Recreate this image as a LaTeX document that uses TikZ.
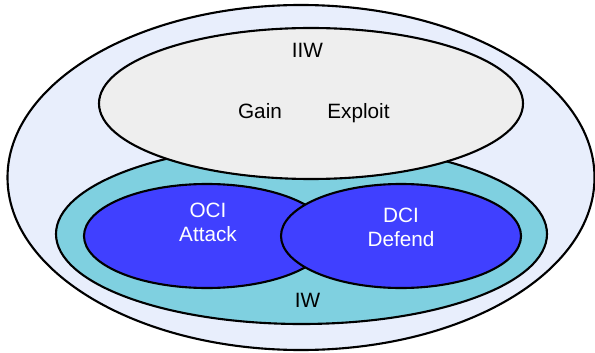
\documentclass[tikz,border=0pt]{standalone}
\usepackage{fontspec}
\setmainfont{Liberation Sans}
\usetikzlibrary{positioning}

\definecolor{outerfill}{RGB}{232,238,252}
\definecolor{gainfill}{RGB}{238,238,238}
\definecolor{iwfill}{RGB}{127,208,224}
\definecolor{ciblue}{RGB}{64,64,255}

\begin{document}
\begin{tikzpicture}[
    ring/.style={draw=black, line width=1.2pt},
    lbl/.style={font=\fontsize{11.8}{13.6}\selectfont, text=black, align=center},
    wlbl/.style={lbl, text=white}
  ]
    \useasboundingbox (0,0) rectangle (11.9,7.04);
    % 外橢圓
    \draw[ring, fill=outerfill] (6.02,3.49) ellipse [x radius=5.87, y radius=3.45];
    % IW 橢圓
    \draw[ring, fill=iwfill] (6.03,2.36) ellipse [x radius=4.91, y radius=1.80];
    % IIW 橢圓
    \draw[ring, fill=gainfill] (6.22,4.97) ellipse [x radius=4.24, y radius=1.51];
    % OCI / DCI 橢圓
    \draw[ring, fill=ciblue] (4.14,2.32) ellipse [x radius=2.46, y radius=1.04];
    \draw[ring, fill=ciblue] (8.02,2.32) ellipse [x radius=2.40, y radius=1.04];
    % 標籤
    \node[lbl] (iiw) at (6.15,6.03) {IIW};
    \node[lbl, anchor=base] (gain) at (5.2,4.66) {Gain};
    \node[lbl, anchor=base] (exploit) at (7.17,4.66) {Exploit};
    \node[wlbl] (oci) at (4.16,2.59) {OCI\\Attack};
    \node[wlbl] (dci) at (8.02,2.49) {DCI\\Defend};
    \node[lbl, anchor=base] (iw) at (6.15,0.9) {IW};
\end{tikzpicture}
\end{document}
